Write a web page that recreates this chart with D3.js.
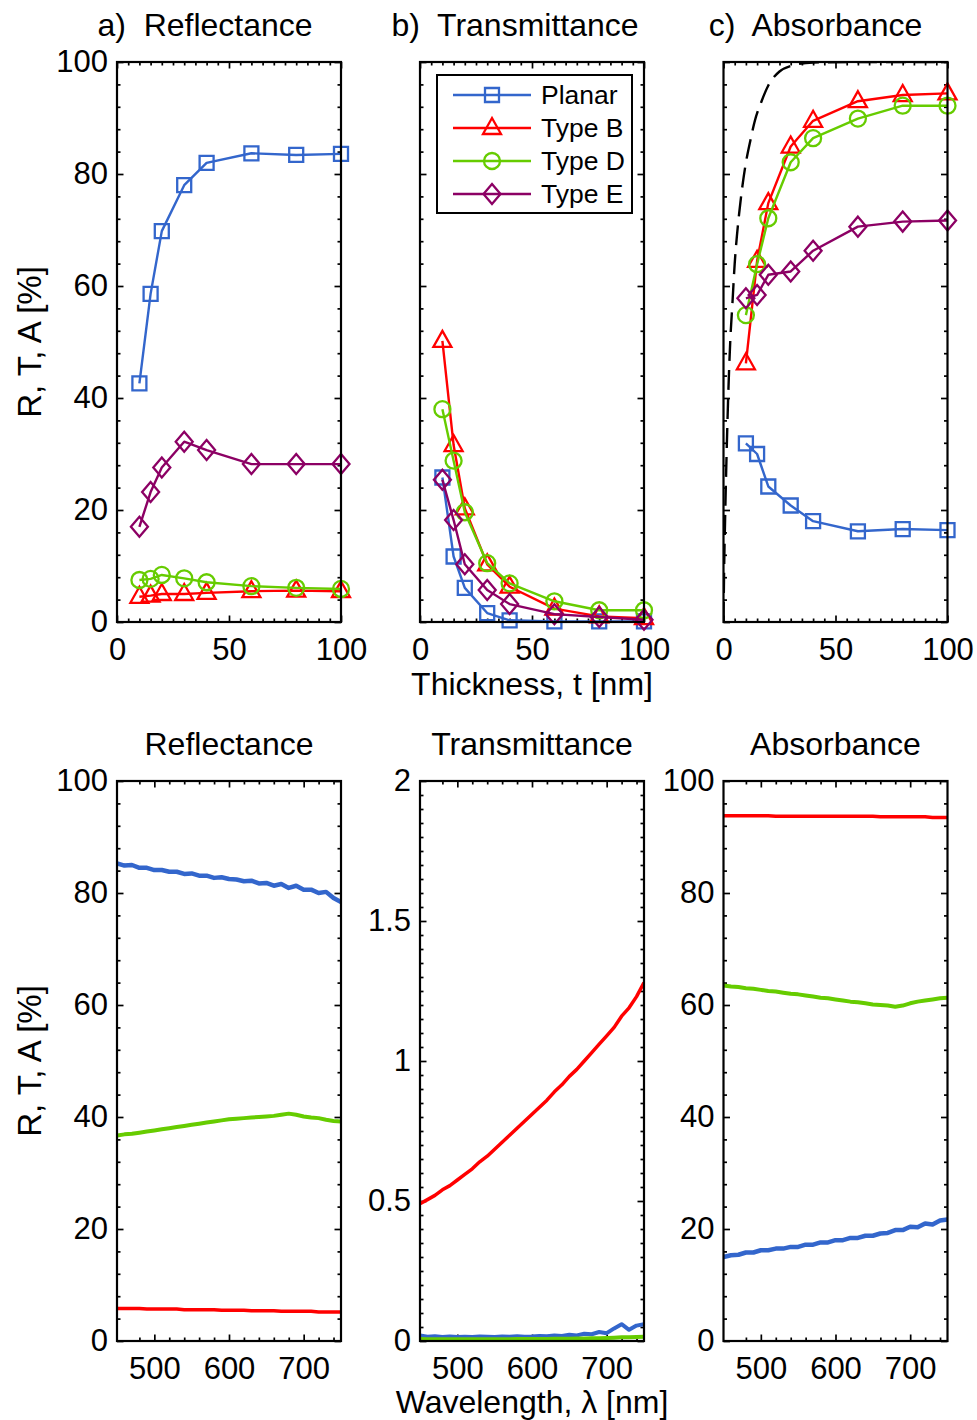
<!DOCTYPE html>
<html>
<head>
<meta charset="utf-8">
<script src="https://cdn.jsdelivr.net/npm/d3@7"></script>
<style>
  body { margin: 0; background: #fff; }
  svg text { font-family: "Liberation Sans", Arial, sans-serif; fill: #000; }
  .title { white-space: pre; }
</style>
</head>
<body>
<div id="chart"></div>
<script>
// thickness sweep (top row)
var thick = [10, 15, 20, 30, 40, 60, 80, 100];

var R_planar = [42.6, 58.6, 69.8, 78.0, 82.0, 83.7, 83.4, 83.6];
var R_typeB  = [4.5, 4.7, 5.0, 5.0, 5.2, 5.5, 5.6, 5.5];
var R_typeD  = [7.5, 7.7, 8.4, 7.8, 7.1, 6.4, 6.1, 5.9];
var R_typeE  = [17.0, 23.2, 27.6, 32.2, 30.7, 28.2, 28.2, 28.2];

var T_planar = [25.8, 11.7, 6.1, 1.6, 0.3, 0.1, 0.1, 0.1];
var T_typeB  = [50.2, 31.6, 20.3, 10.3, 6.3, 2.4, 1.0, 0.7];
var T_typeD  = [38.0, 28.8, 19.6, 10.5, 6.9, 3.7, 2.1, 2.1];
var T_typeE  = [25.4, 18.2, 10.3, 5.7, 3.2, 1.4, 0.9, 0.4];

var A_planar = [31.9, 30.0, 24.2, 20.8, 18.0, 16.2, 16.6, 16.4];
var A_typeB  = [46.2, 64.5, 74.8, 84.9, 89.5, 93.0, 94.1, 94.4];
var A_typeD  = [54.8, 63.9, 72.1, 82.1, 86.4, 89.9, 92.2, 92.2];
var A_typeE  = [57.8, 58.4, 62.0, 62.6, 66.3, 70.6, 71.5, 71.7];

// dashed reference curve in c)
var idealT = [0, 0.3, 0.7, 1.2, 2, 3, 4, 5, 6, 7, 8.5, 10, 12, 14, 17, 20, 25, 30, 40, 60, 80, 100];
var idealA = [0, 10, 18, 27, 39, 50, 57, 64, 69, 73, 78, 82, 86, 89.5, 93, 95.8, 98.3, 99.3, 99.9, 100, 100, 100];

// spectra (bottom row)
var wl = [450, 460, 470, 480, 490, 500, 510, 520, 530, 540, 550, 560, 570, 580, 590, 600,
          610, 620, 630, 640, 650, 660, 670, 680, 690, 700, 710, 720, 730, 740, 750];

var Rs_planar = [85.3, 84.9, 85.0, 84.5, 84.5, 84.1, 84.1, 83.8, 83.8, 83.4, 83.5, 83.1, 83.1, 82.7, 82.8, 82.5,
                 82.4, 82.1, 82.2, 81.7, 81.8, 81.3, 81.6, 80.9, 81.3, 80.6, 80.6, 80.0, 80.2, 79.1, 78.4];
var Rs_typeD  = [36.7, 36.9, 37.0, 37.2, 37.4, 37.6, 37.8, 38.0, 38.2, 38.4, 38.6, 38.8, 39.0, 39.2, 39.4, 39.6,
                 39.7, 39.8, 39.9, 40.0, 40.1, 40.2, 40.4, 40.6, 40.4, 40.1, 39.9, 39.8, 39.5, 39.3, 39.2];
var Rs_typeB  = [5.8, 5.8, 5.8, 5.8, 5.7, 5.7, 5.7, 5.7, 5.7, 5.6, 5.6, 5.6, 5.6, 5.6, 5.5, 5.5,
                 5.5, 5.5, 5.4, 5.4, 5.4, 5.4, 5.3, 5.3, 5.3, 5.3, 5.3, 5.2, 5.2, 5.2, 5.2];

var Ts_typeB  = [0.49, 0.505, 0.52, 0.54, 0.555, 0.575, 0.595, 0.615, 0.64, 0.66, 0.685, 0.71, 0.735, 0.76, 0.785, 0.81,
                 0.835, 0.86, 0.89, 0.915, 0.945, 0.97, 1.0, 1.03, 1.06, 1.09, 1.12, 1.16, 1.19, 1.23, 1.28];
var Ts_planar = [0.02, 0.015, 0.017, 0.014, 0.016, 0.014, 0.015, 0.014, 0.016, 0.015, 0.014, 0.016, 0.015, 0.017, 0.015, 0.016,
                 0.018, 0.017, 0.02, 0.018, 0.022, 0.02, 0.026, 0.024, 0.032, 0.028, 0.045, 0.06, 0.04, 0.055, 0.06];
var Ts_typeD  = [0.007, 0.006, 0.006, 0.006, 0.006, 0.006, 0.006, 0.006, 0.006, 0.006, 0.006, 0.006, 0.006, 0.007, 0.007, 0.007,
                 0.007, 0.007, 0.008, 0.008, 0.008, 0.009, 0.009, 0.01, 0.01, 0.011, 0.012, 0.013, 0.013, 0.014, 0.015];

var As_typeB  = [93.8, 93.8, 93.8, 93.8, 93.8, 93.8, 93.8, 93.7, 93.7, 93.7, 93.7, 93.7, 93.7, 93.7, 93.7, 93.7,
                 93.7, 93.7, 93.7, 93.7, 93.7, 93.6, 93.6, 93.6, 93.6, 93.6, 93.6, 93.6, 93.5, 93.5, 93.5];
var As_typeD  = [63.5, 63.3, 63.2, 63.0, 62.9, 62.7, 62.5, 62.4, 62.2, 62.0, 61.9, 61.7, 61.5, 61.3, 61.2, 61.0,
                 60.8, 60.6, 60.5, 60.3, 60.1, 60.0, 59.9, 59.7, 59.9, 60.3, 60.6, 60.8, 61.0, 61.2, 61.3];
var As_planar = [15.0, 15.3, 15.4, 15.8, 15.8, 16.2, 16.2, 16.5, 16.5, 16.8, 16.8, 17.2, 17.2, 17.6, 17.6, 18.0,
                 18.0, 18.4, 18.4, 18.8, 18.8, 19.2, 19.3, 19.8, 19.8, 20.4, 20.3, 21.0, 20.8, 21.5, 21.7];

var seriesNames = ["Planar", "Type B", "Type D", "Type E"];
var colors = { "Planar": "#3366cc", "Type B": "#ff0000", "Type D": "#66cc00", "Type E": "#8c0064" };
var shapes = { "Planar": "square", "Type B": "triangle", "Type D": "circle", "Type E": "diamond" };

var svgWidth = 977, svgHeight = 1420;
var pw = 224, ph = 560;
var lefts = [117, 420, 723.5];
var topY = 62, botY = 781;
var font = "Liberation Sans, Arial, sans-serif";
var tickFont = 31, labelFont = 32;

var svg = d3.select("#chart").append("svg")
  .attr("width", svgWidth)
  .attr("height", svgHeight);

function markerPath(shape) {
  if (shape === "square") return "M-7,-7H7V7H-7Z";
  if (shape === "triangle") return "M0,-10L9,6H-9Z";
  if (shape === "diamond") return "M0,-10L8.5,0L0,10L-8.5,0Z";
  return d3.arc()({ innerRadius: 0, outerRadius: 8, startAngle: 0, endAngle: 2 * Math.PI });
}

function drawPanel(left, top, opt) {
  var g = svg.append("g").attr("transform", `translate(${left}, ${top})`);
  var x = d3.scaleLinear().domain(opt.xd).range([0, pw]);
  var y = d3.scaleLinear().domain(opt.yd).range([ph, 0]);

  // minor ticks
  [[d3.axisBottom(x), `translate(0,${ph})`], [d3.axisTop(x), "translate(0,0)"]].forEach(function(a) {
    g.append("g").attr("transform", a[1])
      .call(a[0].tickValues(opt.xminor).tickSizeInner(-3.5).tickSizeOuter(0).tickFormat(""))
      .call(s => s.select(".domain").remove());
  });
  [[d3.axisLeft(y), "translate(0,0)"], [d3.axisRight(y), `translate(${pw},0)`]].forEach(function(a) {
    g.append("g").attr("transform", a[1])
      .call(a[0].tickValues(opt.yminor).tickSizeInner(-3.5).tickSizeOuter(0).tickFormat(""))
      .call(s => s.select(".domain").remove());
  });

  // major ticks + labels
  g.append("g").attr("transform", `translate(0,${ph})`)
    .call(d3.axisBottom(x).tickValues(opt.xmajor).tickSizeInner(-6.5).tickSizeOuter(0)
      .tickPadding(16).tickFormat(opt.xlabels ? d3.format("") : ""));
  g.append("g")
    .call(d3.axisTop(x).tickValues(opt.xmajor).tickSizeInner(-6.5).tickSizeOuter(0).tickFormat(""));
  g.append("g")
    .call(d3.axisLeft(y).tickValues(opt.ymajor).tickSizeInner(-6.5).tickSizeOuter(0)
      .tickPadding(9).tickFormat(opt.ylabels ? d3.format("") : ""));
  g.append("g").attr("transform", `translate(${pw},0)`)
    .call(d3.axisRight(y).tickValues(opt.ymajor).tickSizeInner(-6.5).tickSizeOuter(0).tickFormat(""));

  g.selectAll(".domain").remove();
  g.selectAll(".tick line").attr("stroke", "#000").attr("stroke-width", 1.7);
  g.selectAll(".tick text").attr("font-size", tickFont + "px").attr("font-family", font).attr("fill", "#000");

  // clip for data
  var cid = "clip" + Math.round(left) + "_" + top;
  g.append("clipPath").attr("id", cid).append("rect")
    .attr("x", 0).attr("y", 0).attr("width", pw).attr("height", ph);

  var plot = g.append("g");
  var line = d3.line().x(d => x(d[0])).y(d => y(d[1]));

  if (opt.ideal) {
    plot.append("path")
      .datum(d3.zip(opt.ideal[0], opt.ideal[1]))
      .attr("fill", "none")
      .attr("stroke", "#000")
      .attr("stroke-width", 2.4)
      .attr("stroke-dasharray", "20,9")
      .attr("clip-path", `url(#${cid})`)
      .attr("d", d3.line().x(d => x(d[0])).y(d => y(d[1])).curve(d3.curveMonotoneX));
  }

  opt.series.forEach(function(s) {
    var pts = d3.zip(opt.xs, s.values);
    plot.append("path")
      .datum(pts)
      .attr("fill", "none")
      .attr("stroke", colors[s.name])
      .attr("stroke-width", s.width || 2.4)
      .attr("stroke-linejoin", "round")
      .attr("clip-path", opt.markers ? null : `url(#${cid})`)
      .attr("d", line);
    if (opt.markers) {
      plot.selectAll(null)
        .data(pts)
        .enter()
        .append("path")
        .attr("transform", d => `translate(${x(d[0])},${y(d[1])})`)
        .attr("d", markerPath(shapes[s.name]))
        .attr("fill", "none")
        .attr("stroke", colors[s.name])
        .attr("stroke-width", 2.3);
    }
  });

  g.append("rect")
    .attr("x", 0).attr("y", 0).attr("width", pw).attr("height", ph)
    .attr("fill", "none").attr("stroke", "#000").attr("stroke-width", 2.2);

  if (opt.title) {
    svg.append("text")
      .attr("class", "title")
      .attr("x", left + pw / 2 + (opt.titleShift || 0))
      .attr("y", top - 26)
      .attr("text-anchor", "middle")
      .attr("font-size", labelFont + "px")
      .text(opt.title);
  }
  return { g: g, x: x, y: y };
}

var thickTicks = { xd: [0, 100], xmajor: [0, 50, 100], xminor: d3.range(5, 100, 5).filter(v => v !== 50),
                   yd: [0, 100], ymajor: [0, 20, 40, 60, 80, 100], yminor: d3.range(4, 100, 4).filter(v => v % 20 !== 0) };
var wlTicks = { xd: [450, 750], xmajor: [500, 600, 700], xminor: [480, 520, 540, 560, 580, 620, 640, 660, 680, 720, 740] };

// top row
drawPanel(lefts[0], topY, Object.assign({}, thickTicks, {
  xlabels: true, ylabels: true, markers: true, xs: thick, title: "a)  Reflectance", titleShift: -24,
  series: [
    { name: "Planar", values: R_planar },
    { name: "Type B", values: R_typeB },
    { name: "Type D", values: R_typeD },
    { name: "Type E", values: R_typeE }
  ]
}));

var pb = drawPanel(lefts[1], topY, Object.assign({}, thickTicks, {
  xlabels: true, ylabels: false, markers: true, xs: thick, title: "b)  Transmittance", titleShift: -17,
  series: [
    { name: "Planar", values: T_planar },
    { name: "Type B", values: T_typeB },
    { name: "Type D", values: T_typeD },
    { name: "Type E", values: T_typeE }
  ]
}));

drawPanel(lefts[2], topY, Object.assign({}, thickTicks, {
  xlabels: true, ylabels: false, markers: true, xs: thick, title: "c)  Absorbance", titleShift: -20,
  ideal: [idealT, idealA],
  series: [
    { name: "Planar", values: A_planar },
    { name: "Type B", values: A_typeB },
    { name: "Type D", values: A_typeD },
    { name: "Type E", values: A_typeE }
  ]
}));

// legend inside b)
var leg = pb.g.append("g").attr("transform", "translate(17,13)");
leg.append("rect").attr("width", 195).attr("height", 138)
  .attr("fill", "#fff").attr("stroke", "#000").attr("stroke-width", 2);
seriesNames.forEach(function(name, i) {
  var ly = 20 + i * 33;
  leg.append("line").attr("x1", 16).attr("x2", 94).attr("y1", ly).attr("y2", ly)
    .attr("stroke", colors[name]).attr("stroke-width", 2.4);
  leg.append("path").attr("transform", `translate(55,${ly})`)
    .attr("d", markerPath(shapes[name]))
    .attr("fill", "none").attr("stroke", colors[name]).attr("stroke-width", 2.3);
  leg.append("text").attr("x", 104).attr("y", ly).attr("dy", "0.35em")
    .attr("font-size", "26.5px").text(name);
});

// bottom row
drawPanel(lefts[0], botY, Object.assign({}, wlTicks, {
  yd: [0, 100], ymajor: [0, 20, 40, 60, 80, 100], yminor: d3.range(4, 100, 4).filter(v => v % 20 !== 0),
  xlabels: true, ylabels: true, markers: false, xs: wl, title: "Reflectance",
  series: [
    { name: "Type B", values: Rs_typeB, width: 3.5 },
    { name: "Type D", values: Rs_typeD, width: 4 },
    { name: "Planar", values: Rs_planar, width: 4.5 }
  ]
}));

drawPanel(lefts[1], botY, Object.assign({}, wlTicks, {
  yd: [0, 2], ymajor: [0, 0.5, 1, 1.5, 2],
  yminor: d3.range(0.05, 2, 0.05).map(v => +v.toFixed(2)).filter(v => Math.abs(v * 2 - Math.round(v * 2)) > 1e-6),
  xlabels: true, ylabels: true, markers: false, xs: wl, title: "Transmittance",
  series: [
    { name: "Type B", values: Ts_typeB, width: 3.5 },
    { name: "Planar", values: Ts_planar, width: 4 },
    { name: "Type D", values: Ts_typeD, width: 4 }
  ]
}));

drawPanel(lefts[2], botY, Object.assign({}, wlTicks, {
  yd: [0, 100], ymajor: [0, 20, 40, 60, 80, 100], yminor: d3.range(4, 100, 4).filter(v => v % 20 !== 0),
  xlabels: true, ylabels: true, markers: false, xs: wl, title: "Absorbance",
  series: [
    { name: "Type B", values: As_typeB, width: 3.5 },
    { name: "Type D", values: As_typeD, width: 4 },
    { name: "Planar", values: As_planar, width: 4.5 }
  ]
}));

// axis labels
svg.append("text")
  .attr("transform", `translate(41, ${topY + ph / 2}) rotate(-90)`)
  .attr("text-anchor", "middle").attr("font-size", "33px")
  .text("R, T, A [%]");
svg.append("text")
  .attr("transform", `translate(41, ${botY + ph / 2}) rotate(-90)`)
  .attr("text-anchor", "middle").attr("font-size", "33px")
  .text("R, T, A [%]");
svg.append("text")
  .attr("x", lefts[1] + pw / 2).attr("y", 695)
  .attr("text-anchor", "middle").attr("font-size", labelFont + "px")
  .text("Thickness, t [nm]");
svg.append("text")
  .attr("x", lefts[1] + pw / 2).attr("y", 1413)
  .attr("text-anchor", "middle").attr("font-size", labelFont + "px")
  .text("Wavelength, λ [nm]");
</script>
</body>
</html>
